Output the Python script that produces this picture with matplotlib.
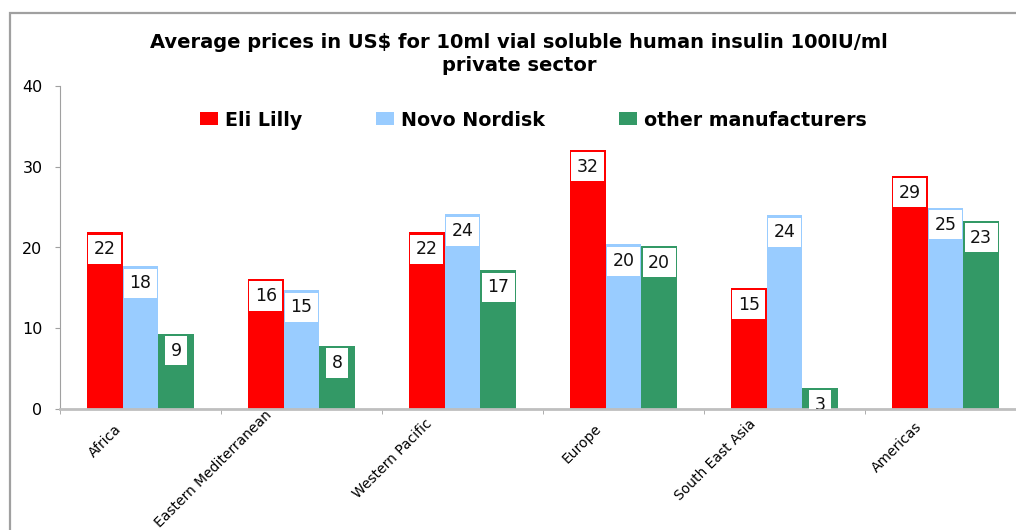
import numpy as np
import matplotlib
matplotlib.use("Agg")
import matplotlib.pyplot as plt
import matplotlib.transforms as mtrans
from matplotlib.patches import Rectangle

regions = ["Africa", "Eastern Mediterranean", "Western Pacific", "Europe",
           "South East Asia", "Americas"]
series = ["Eli Lilly", "Novo Nordisk", "other manufacturers"]
eli_lilly = [21.9, 16.1, 21.9, 32.1, 15.0, 28.9]
novo_nordisk = [17.7, 14.7, 24.1, 20.4, 24.0, 24.9]
other_manuf = [9.3, 7.8, 17.2, 20.2, 2.6, 23.3]
colors = ["#FF0000", "#99CCFF", "#339966"]
title = "Average prices in US$ for 10ml vial soluble human insulin 100IU/ml\nprivate sector"

W, H = 1016, 530
fig = plt.figure(figsize=(W / 100, H / 100), dpi=100)
# axes: x 60..1026 px (cropped on right), y 86..409 px
ax = fig.add_axes([60 / W, 1 - 409 / H, 966 / W, 323 / H])

# outer chart border (cropped on right and bottom)
fig.patches.append(Rectangle((10 / W, -0.1), 1.2, 1 - 13 / H + 0.1,
                             transform=fig.transFigure, fill=False,
                             edgecolor="#a0a0a0", lw=1.6, clip_on=False))

x = np.arange(len(regions))
bw = 0.222
for i, (vals, col) in enumerate(zip([eli_lilly, novo_nordisk, other_manuf], colors)):
    pos = x + (i - 1) * bw
    ax.bar(pos, vals, width=bw, color=col, label=series[i], zorder=2)
    for px_, v in zip(pos, vals):
        ax.annotate(f"{v:.0f}", (px_, v), xytext=(0, -8), textcoords="offset pixels",
                    ha="center", va="top", fontsize=12.5, color="#111111",
                    bbox=dict(boxstyle="square,pad=0.32", fc="white", ec="none"),
                    annotation_clip=False, clip_on=True, zorder=3)

ax.set_xlim(-0.5, 5.5)
ax.set_ylim(0, 40)
ax.set_yticks([0, 10, 20, 30, 40])
ax.tick_params(axis="y", labelsize=11.5, length=3.6, color="#a0a0a0", pad=9)
ax.set_xticks(x)
ax.set_xticks(np.arange(-0.5, 6, 1), minor=True)
ax.tick_params(axis="x", which="major", length=0, pad=0)
ax.tick_params(axis="x", which="minor", length=3.6, color="#a0a0a0")
ax.set_xticklabels(regions, rotation=45, ha="right", rotation_mode="anchor", fontsize=10)
# per-label pixel shifts (Excel places rotated labels a little left of centre)
lab_dx = [-26, -37, -38, -29, -36, -31]
lab_dy = [-13, 1, -8, -13, -8, -11]
for lab, dx, dy in zip(ax.get_xticklabels(), lab_dx, lab_dy):
    off = mtrans.ScaledTranslation(dx / 100, dy / 100, fig.dpi_scale_trans)
    lab.set_transform(lab.get_transform() + off)

for s in ["top", "right"]:
    ax.spines[s].set_visible(False)
ax.spines["left"].set_color("#a0a0a0")
ax.spines["bottom"].set_color("#bfbfbf")
ax.spines["bottom"].set_linewidth(2)

fig.text(519 / W, 1 - 54 / H, title, ha="center", va="center", fontsize=14,
         fontweight="bold", linespacing=1.3)

ax.legend(loc="center left", bbox_to_anchor=(200 / W, 1 - 120 / H),
          bbox_transform=fig.transFigure, ncol=3, frameon=False,
          prop=dict(size=13.7, weight="bold"), handlelength=0.92, handleheight=0.68,
          handletextpad=0.38, columnspacing=3.9, borderpad=0, borderaxespad=0)

fig.savefig("out.png", dpi=100)
